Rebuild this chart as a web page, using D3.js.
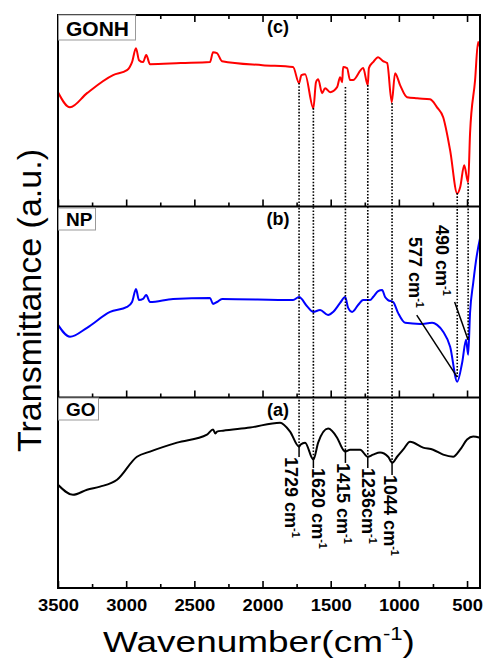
<!DOCTYPE html>
<head>
<meta charset="utf-8">
<script src="https://d3js.org/d3.v7.min.js"></script>
<style>
  body { margin: 0; background: #fff; }
  svg text { font-family: "Liberation Sans", Arial, sans-serif; }
</style>
</head>
<body>
<script>
// ---- data (wavenumber in cm-1, transmittance in a.u. per panel 0..100)
const gonhWn = [3500,3412,3287,3096,2994,2957,2928,2906,2876,2853,2825,2600,2385,2363,2334,2297,2000,1776,1732,1715,1688,1627,1608,1592,1563,1541,1504,1453,1431,1416,1409,1380,1358,1336,1262,1228,1220,1189,1152,1116,1086,1052,1028,991,940,866,771,720,675,624,572,551,521,492,478,441,419,405];
const gonhT  = [59.7,51.8,59.2,68.6,71.2,75.4,82.7,76.4,75.4,79.1,74.3,74.9,75.4,80.6,80.1,75.9,73.8,72.8,64.4,68.6,69.1,51.3,64.9,66.5,59.2,61.8,59.7,62.3,67.5,64.9,72.8,72.3,66.0,66.0,72.3,63.4,72.3,75.4,78.0,75.9,74.9,54.5,69.6,63.4,57.1,56.5,56.0,51.8,46.6,29.3,6.8,9.9,21.5,12.6,38.2,66.0,85.9,83.0];

const npWn = [3500,3412,3287,3118,2994,2957,2928,2906,2876,2853,2825,2656,2385,2363,2334,2297,1776,1732,1675,1629,1578,1519,1482,1431,1394,1372,1343,1299,1262,1211,1189,1152,1123,1101,1079,1042,1006,954,844,756,720,675,624,572,536,507,492,478,455,426,405];
const npT  = [38.0,31.8,36.5,44.8,47.4,50.0,56.8,51.0,51.6,53.6,50.0,51.6,52.1,49.0,50.0,51.6,51.0,52.6,47.9,44.8,45.8,43.2,44.8,49.5,52.6,46.9,44.8,48.4,51.0,51.0,52.6,55.7,56.3,52.6,51.0,50.0,44.3,39.1,38.5,39.1,38.0,34.4,26.6,8.3,18.2,30.2,22.4,44.3,59.9,75.5,83.3];

const goWn = [3500,3390,3287,3192,3067,2921,2825,2627,2407,2363,2345,2334,2290,2091,1871,1798,1732,1720,1688,1627,1592,1519,1453,1409,1392,1358,1284,1228,1189,1138,1079,1048,1013,969,918,822,749,675,602,551,500,455,405];
const goT  = [54.2,48.9,51.6,53.2,56.8,68.9,71.6,76.3,80.5,83.2,81.1,82.1,82.6,84.2,86.8,82.1,74.2,75.3,76.3,67.4,76.3,83.7,78.9,72.6,71.6,72.6,72.6,68.9,70.0,71.1,68.9,65.8,68.9,72.6,76.8,73.7,72.6,70.0,68.9,72.6,77.9,79.5,78.9];

// marker lines: start in panel (c), end in panel (a) or (b)
const markWn      = [1732, 1627, 1392, 1228, 1050, 572, 492];
const markTopT    = [64.5, 51.4, 62.4, 63.4, 54.0, 7.0, 12.3];
const markBottomT = [75.1, 68.2, 73.0, 69.3, 66.1, 10.7, 30.1];
const markPanel   = ["a", "a", "a", "a", "a", "b", "b"];
const markLabel   = ["1729 cm", "1620 cm", "1415 cm", "1236cm", "1044 cm", "577 cm", "490 cm"];

const majorTicks = [3500, 3000, 2500, 2000, 1500, 1000, 500];
const minorTicks = [3250, 2750, 2250, 1750, 1250, 750];

const panelNames = ["GONH", "NP", "GO"];
const panelTags = ["(c)", "(b)", "(a)"];

// ---- layout
const width = 486, height = 658;
const left = 58, right = 480;
const pTop = [15, 206.5, 397.5], pBot = [206.5, 397.5, 588];

const svg = d3.select("body").append("svg")
    .attr("width", width).attr("height", height);

const x = d3.scaleLinear().domain([3500, 405]).range([left, right]);
const ys = pTop.map((t, i) => d3.scaleLinear().domain([0, 100]).range([pBot[i], t]));
const yOf = {c: ys[0], b: ys[1], a: ys[2]};

const series = [
    {wn: gonhWn, t: gonhT, y: ys[0], color: "#ff0000"},
    {wn: npWn, t: npT, y: ys[1], color: "#0000ff"},
    {wn: goWn, t: goT, y: ys[2], color: "#000000"}
];

series.forEach(s => {
    const line = d3.line().curve(d3.curveMonotoneX)
        .x(d => x(d[0])).y(d => s.y(d[1]));
    svg.append("path")
        .datum(d3.zip(s.wn, s.t))
        .attr("d", line)
        .attr("fill", "none")
        .attr("stroke", s.color)
        .attr("stroke-width", 2)
        .attr("stroke-linejoin", "round");
});

// dotted marker lines
markWn.forEach((w, i) => {
    const yb = yOf[markPanel[i]];
    svg.append("line")
        .attr("x1", x(w)).attr("x2", x(w))
        .attr("y1", ys[0](markTopT[i])).attr("y2", yb(markBottomT[i]))
        .attr("stroke", "#000").attr("stroke-width", 1.6)
        .attr("stroke-dasharray", "1.6,1.6");
});

// labels in panel (a): short solid tick then rotated text
const aDx = [-14, -1, -8, -6, -8];
const aGap = [12, 10, 14, 12, 13];

function addLabel(tx, ty, str) {
    const t = svg.append("text")
        .attr("transform", `translate(${tx},${ty}) rotate(90)`)
        .attr("font-size", 18).attr("font-weight", "bold")
        .attr("fill", "#000");
    t.append("tspan").text(str);
    t.append("tspan").attr("font-size", 11).attr("dy", -7).text("-1");
}

markWn.forEach((w, i) => {
    if (markPanel[i] !== "a") return;
    const yb = ys[2](markBottomT[i]);
    svg.append("line")
        .attr("x1", x(w)).attr("x2", x(w))
        .attr("y1", yb).attr("y2", yb + aGap[i])
        .attr("stroke", "#000").attr("stroke-width", 1.5);
    addLabel(x(w) + aDx[i], yb + aGap[i], markLabel[i]);
});

// labels in panel (b): leader line from text to the band
const bLead = {5: [-40.5, -62, -48.5, -140], 6: [-13.5, -38, -32.5, -115]};
markWn.forEach((w, i) => {
    if (markPanel[i] !== "b") return;
    const px = x(w), py = ys[1](markBottomT[i]);
    const o = bLead[i];
    svg.append("line")
        .attr("x1", px + o[0]).attr("y1", py + o[1])
        .attr("x2", px).attr("y2", py)
        .attr("stroke", "#000").attr("stroke-width", 1.5);
    addLabel(px + o[2], py + o[3], markLabel[i]);
});

// axes: inward ticks on each panel's bottom, mirrored on the top of panel (c)
pBot.forEach((b, i) => {
    const last = i === 2;
    const gMaj = svg.append("g").attr("transform", `translate(0,${b})`)
        .call(d3.axisBottom(x).tickValues(majorTicks).tickSize(-7).tickPadding(12)
            .tickFormat(last ? d3.format("d") : ""));
    svg.append("g").attr("transform", `translate(0,${b})`)
        .call(d3.axisBottom(x).tickValues(minorTicks).tickSize(-4).tickFormat(""));
    if (last) {
        gMaj.selectAll("text")
            .attr("font-size", 16).attr("font-weight", "bold")
            .attr("font-family", "Liberation Sans, Arial, sans-serif")
            .attr("fill", "#000")
            .attr("transform", "scale(1.15,1)");
    }
});
svg.append("g").attr("transform", `translate(0,${pTop[0]})`)
    .call(d3.axisTop(x).tickValues(majorTicks).tickSize(-7).tickFormat(""));
svg.append("g").attr("transform", `translate(0,${pTop[0]})`)
    .call(d3.axisTop(x).tickValues(minorTicks).tickSize(-4).tickFormat(""));

svg.selectAll(".domain").remove();
svg.selectAll(".tick line").attr("stroke", "#000").attr("stroke-width", 1.6);

// frame
svg.append("rect")
    .attr("x", left).attr("y", pTop[0])
    .attr("width", right - left).attr("height", pBot[2] - pTop[0])
    .attr("fill", "none").attr("stroke", "#000").attr("stroke-width", 2);
pBot.slice(0, 2).forEach(b => {
    svg.append("line").attr("x1", left).attr("x2", right)
        .attr("y1", b).attr("y2", b)
        .attr("stroke", "#000").attr("stroke-width", 2);
});

// panel name boxes and tags
const boxW = [77, 37, 40], boxH = [25, 22, 22], boxDy = [0, 1.5, 0.5], nameSize = [21, 19, 19];
panelNames.forEach((n, i) => {
    const by = pTop[i] + boxDy[i];
    svg.append("rect")
        .attr("x", left + 0.5).attr("y", by)
        .attr("width", boxW[i]).attr("height", boxH[i])
        .attr("fill", "#fff").attr("stroke", "#999").attr("stroke-width", 1);
    svg.append("text")
        .attr("x", left + 8).attr("y", by + boxH[i] - 4)
        .attr("font-size", nameSize[i]).attr("font-weight", "bold")
        .text(n);
    svg.append("text")
        .attr("x", 278).attr("y", pTop[i] + 18)
        .attr("text-anchor", "middle")
        .attr("font-size", 18).attr("font-weight", "bold")
        .text(panelTags[i]);
});

// axis titles
svg.append("text")
    .attr("transform", "translate(41,300.5) rotate(-90)")
    .attr("text-anchor", "middle")
    .attr("font-size", 34)
    .text("Transmittance (a.u.)");

const xt = svg.append("text")
    .attr("font-size", 30)
    .attr("text-anchor", "middle");
xt.append("tspan").text("Wavenumber(cm");
xt.append("tspan").attr("font-size", 18).attr("dy", -12).text("-1");
xt.append("tspan").attr("dy", 12).text(")");
const xw = xt.node().getComputedTextLength();
xt.attr("transform", `translate(259,652) scale(${312 / xw},1)`);
</script>
</body>
